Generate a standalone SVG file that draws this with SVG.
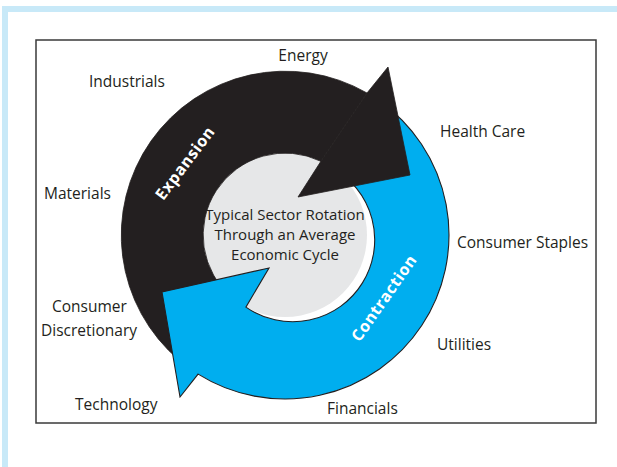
<svg xmlns="http://www.w3.org/2000/svg" width="617" height="467" viewBox="0 0 617 467">
<style>
.lbl{font-family:"Open Sans","Noto Sans","Liberation Sans",sans-serif;font-size:15.5px;fill:#231f20}
.ctr{font-family:"Open Sans","Noto Sans","Liberation Sans",sans-serif;font-size:15px;fill:#231f20;text-anchor:middle}
.band{font-family:"Open Sans","Noto Sans","Liberation Sans",sans-serif;font-size:16px;font-weight:bold;fill:#ffffff;text-anchor:middle;letter-spacing:0.6px}
.blk{fill:#231f20;stroke:#231f20;stroke-width:0.8}
.blu{fill:#00aeef;stroke:#231f20;stroke-width:1.1;stroke-linejoin:miter}
</style>
<rect x="0" y="0" width="617" height="467" fill="#ffffff"/>
<g id="frame">
<rect x="2" y="6" width="615" height="6" fill="#c8e9f8"/>
<rect x="2" y="6" width="6" height="461" fill="#c8e9f8"/>
<rect x="36" y="40" width="560" height="383" fill="#ffffff" stroke="#3a3a3a" stroke-width="1.5"/>
</g>
<g id="center">
<circle cx="285" cy="235" r="82" fill="#e6e7e8"/>
</g>
<g id="connectors">
<path id="expansion-body" class="blk" d="M179.6,360.6 A164,164 0 0 1 367,93 L320.9,161.3 A82,82 0 0 0 232.3,297.8 Z"/>
<path id="contraction-arrow" class="blu" d="M379.1,100.7 A164,164 0 0 1 198.1,374.1 L180,397 L162,292 L269,268 L245.9,307.1 A82,82 0 1 0 332.0,167.8 Z"/>
<path id="expansion-head" class="blk" d="M367,93 L388,67 L410,175 L298,197 L320.9,161.3 Z"/>
</g>
<g id="center-text">
<text class="ctr" x="285" y="220">Typical Sector Rotation</text>
<text class="ctr" x="285" y="240">Through an Average</text>
<text class="ctr" x="285" y="260">Economic Cycle</text>
</g>
<g id="phase-labels">
<text class="band" transform="translate(185,163) rotate(-53)" dy="0.35em">Expansion</text>
<text class="band" transform="translate(384,298) rotate(-55)" dy="0.35em">Contraction</text>
</g>
<g id="sectors">
<g id="energy"><text class="lbl" x="303" y="61" text-anchor="middle">Energy</text></g>
<g id="industrials"><text class="lbl" x="89" y="87">Industrials</text></g>
<g id="health-care"><text class="lbl" x="440" y="137">Health Care</text></g>
<g id="materials"><text class="lbl" x="44" y="199">Materials</text></g>
<g id="consumer-staples"><text class="lbl" x="457" y="248">Consumer Staples</text></g>
<g id="consumer-discretionary"><text class="lbl" x="52" y="312">Consumer</text><text class="lbl" x="41" y="336">Discretionary</text></g>
<g id="utilities"><text class="lbl" x="437" y="350">Utilities</text></g>
<g id="technology"><text class="lbl" x="75" y="410">Technology</text></g>
<g id="financials"><text class="lbl" x="327" y="414">Financials</text></g>
</g>
</svg>
